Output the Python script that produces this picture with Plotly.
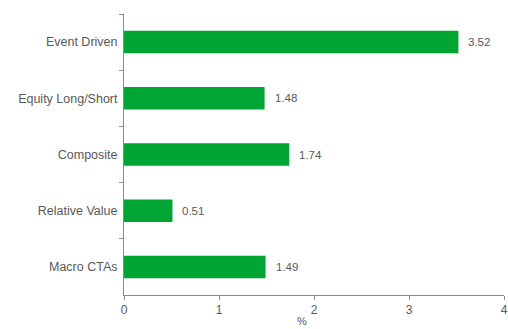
import plotly.graph_objects as go

categories = ["Event Driven", "Equity Long/Short", "Composite", "Relative Value", "Macro CTAs"]
values = [3.52, 1.48, 1.74, 0.51, 1.49]
x_ticks = [0, 1, 2, 3, 4]

grey = "#595959"
axis_grey = "#8c8c8c"
font_family = "Liberation Sans, Arial, sans-serif"

fig = go.Figure(
    go.Bar(
        x=values,
        y=categories,
        orientation="h",
        marker=dict(color="#00A533", line=dict(width=0)),
        width=0.4,
    )
)

# value labels just right of each bar end
for cat, v in zip(categories, values):
    fig.add_annotation(
        x=v, y=cat, text=f"{v:.2f}", showarrow=False,
        xanchor="left", xshift=8,
        font=dict(color=grey, size=11.5, family=font_family),
    )

# unit label under the x axis
fig.add_annotation(
    x=0.468, y=-0.093, xref="paper", yref="paper", text="%",
    showarrow=False, xanchor="center", yanchor="middle",
    font=dict(color=grey, size=11, family=font_family),
)

fig.update_layout(
    width=508,
    height=329,
    margin=dict(l=124, r=4, t=14, b=34),
    paper_bgcolor="white",
    plot_bgcolor="white",
    showlegend=False,
    font=dict(family=font_family, size=12, color=grey),
    xaxis=dict(
        range=[0, 4],
        tickvals=x_ticks,
        ticktext=[str(t) for t in x_ticks],
        showgrid=False,
        zeroline=False,
        showline=True,
        linecolor=axis_grey,
        linewidth=1,
        ticks="outside",
        ticklen=4,
        tickcolor=axis_grey,
        tickfont=dict(size=12, color=grey),
        automargin=False,
    ),
    yaxis=dict(
        categoryorder="array",
        categoryarray=categories,
        autorange="reversed",
        showgrid=False,
        zeroline=False,
        showline=True,
        linecolor=axis_grey,
        linewidth=1,
        ticks="outside",
        tickson="boundaries",
        ticklen=4,
        tickcolor=axis_grey,
        tickfont=dict(size=12.5, color=grey),
        ticklabelstandoff=3,
        automargin=False,
    ),
)

fig.write_html("out.html")
